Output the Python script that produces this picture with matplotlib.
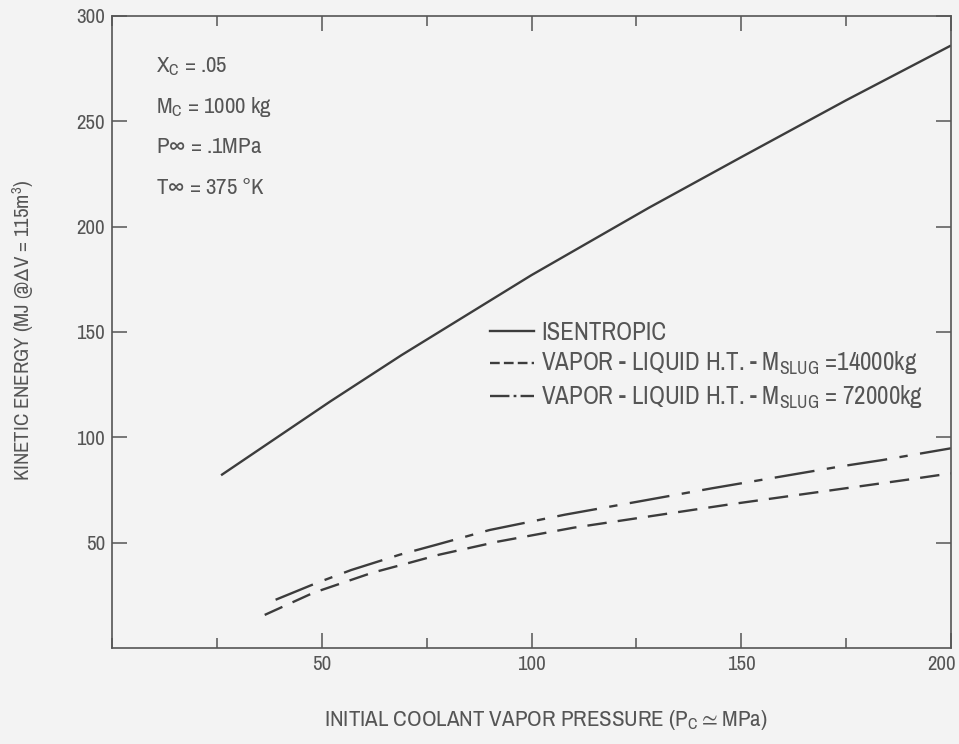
import matplotlib
matplotlib.use("Agg")
import matplotlib.pyplot as plt
from matplotlib import font_manager
from matplotlib.ticker import MultipleLocator, FixedLocator
from matplotlib.lines import Line2D
from matplotlib.transforms import ScaledTranslation

# Prefer a narrow sans face when one is installed
narrow = [f.name for f in font_manager.fontManager.ttflist
          if 'narrow' in f.name.lower() or 'condensed' in f.name.lower()]
plt.rcParams['font.family'] = (narrow[:1] if narrow else []) + ['DejaVu Sans']
plt.rcParams['font.stretch'] = 'condensed'
plt.rcParams['mathtext.default'] = 'regular'
plt.rcParams['lines.scale_dashes'] = False

# Isentropic expansion
isen_p = [26, 52, 69, 100, 128, 150, 175, 200]
isen_ke = [82, 117, 139, 177, 209, 233, 260, 286]

# Vapor-liquid heat transfer, M_slug = 14000 kg
vl14_p = [36.4, 48, 62, 71, 78, 92, 110, 147, 190, 200]
vl14_ke = [15.7, 26.2, 35.7, 40.5, 44.3, 50.5, 57.1, 68.1, 80, 82.9]

# Vapor-liquid heat transfer, M_slug = 72000 kg
vl72_p = [39, 48.7, 57, 68.6, 77.3, 90, 108, 126, 143, 174, 183.6, 200]
vl72_ke = [22.9, 30.8, 37, 44.3, 49, 56, 63.3, 69.7, 75.8, 86.3, 89.2, 94.8]

x_ticks = [50, 100, 150, 200]
y_ticks = [50, 100, 150, 200, 250, 300]

labels = [
    "ISENTROPIC",
    r"VAPOR - LIQUID H.T. - M$_{SLUG}$ =14000kg",
    r"VAPOR - LIQUID H.T. - M$_{SLUG}$ = 72000kg",
]
params = [
    r"X$_C$ = .05",
    r"M$_C$ = 1000 kg",
    r"P$\infty$ = .1MPa",
    r"T$\infty$ = 375 °K",
]

bg = '#f3f3f3'
ink = '#3c3c3c'
txt = '#555555'

fig = plt.figure(figsize=(9.59, 7.44), dpi=100, facecolor=bg)
ax = fig.add_axes([112 / 959, 1 - 648 / 744, (951 - 112) / 959, (648 - 16) / 744])
ax.set_facecolor(bg)

lw = 1.7
ax.plot(isen_p, isen_ke, color=ink, lw=lw, solid_capstyle='butt')
ax.plot(vl14_p, vl14_ke, color=ink, lw=lw, dashes=(14, 8), dash_capstyle='butt')
ax.plot(vl72_p, vl72_ke, color=ink, lw=lw, dashes=(29, 9, 6, 9), dash_capstyle='butt')

ax.set_xlim(0, 200)
ax.set_ylim(0, 300)
ax.xaxis.set_major_locator(FixedLocator(x_ticks))
ax.xaxis.set_minor_locator(MultipleLocator(25))
ax.yaxis.set_major_locator(FixedLocator(y_ticks))

ax.tick_params(which='both', direction='in', top=True, right=True,
               colors=txt, labelcolor=txt, width=1.1)
ax.tick_params(which='major', length=11, labelsize=15, pad=5)
ax.tick_params(which='minor', length=7)
for s in ax.spines.values():
    s.set_color(txt)
    s.set_linewidth(1.2)

# keep the last x tick label inside the figure edge
last = ax.get_xticklabels()[-1]
last.set_transform(last.get_transform() + ScaledTranslation(-9 / 100, 0, fig.dpi_scale_trans))

ax.set_xlabel(r"INITIAL COOLANT VAPOR PRESSURE (P$_C$$\simeq$MPa)",
              fontsize=16.5, color=txt)
ax.xaxis.set_label_coords((546 - 112) / 839, (648 - 708) / 632)
ax.set_ylabel(r"KINETIC ENERGY (MJ @$\Delta$V = 115m$^3$)",
              fontsize=15, color=txt)
ax.yaxis.set_label_coords((36 - 112) / 839, (648 - 330) / 632)

for i, s in enumerate(params):
    ax.text(0.052, 0.92 - i * 0.064, s, transform=ax.transAxes,
            fontsize=16.5, color=txt, va='center', ha='left')

handles = [
    Line2D([], [], color=ink, lw=lw),
    Line2D([], [], color=ink, lw=lw, dashes=(7, 3)),
    Line2D([], [], color=ink, lw=lw, dashes=(14, 3, 2, 3)),
]
leg = ax.legend(handles, labels, loc='upper left',
                bbox_to_anchor=((490 - 112) / 839, (648 - 321) / 632),
                frameon=False, fontsize=18, handlelength=1.75,
                handletextpad=0.3, labelspacing=0.25, borderpad=0,
                borderaxespad=0)
for t in leg.get_texts():
    t.set_color(txt)

fig.savefig("out.png", dpi=100, facecolor=bg)
